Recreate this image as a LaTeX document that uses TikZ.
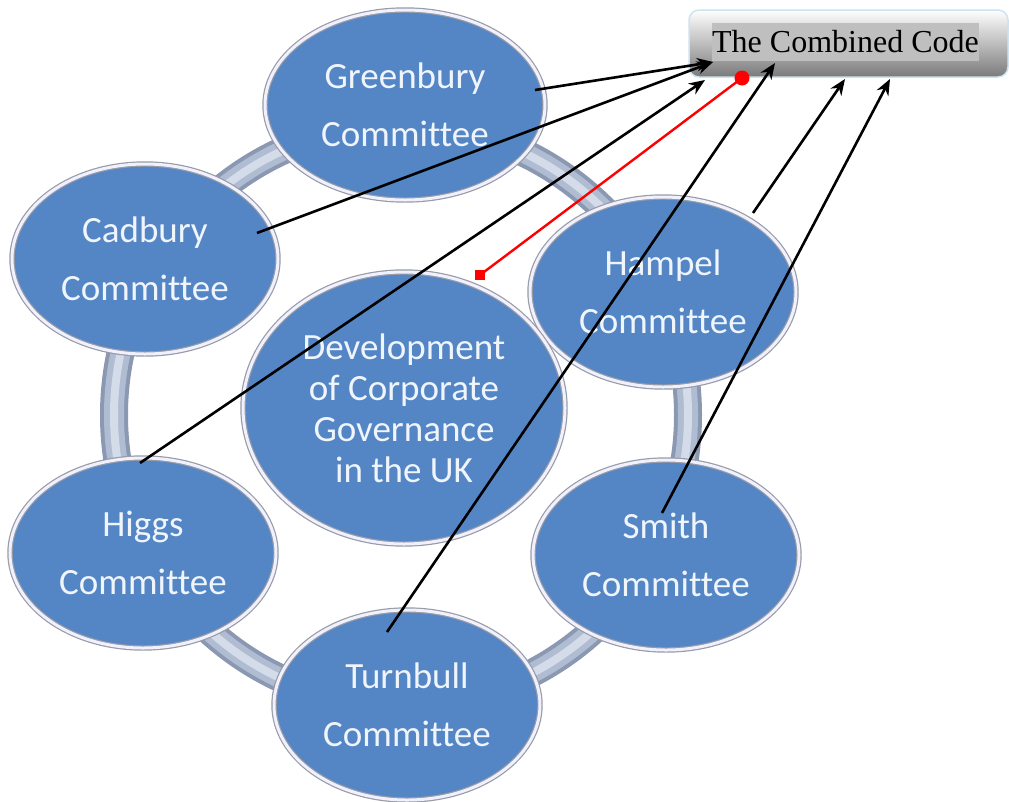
\documentclass[tikz,border=0pt]{standalone}
\usepackage{fontspec}
\setmainfont{Liberation Serif}
\newfontfamily\bubblefont[Ligatures=CommonOff]{Carlito}
\usetikzlibrary{shapes.geometric,arrows.meta}
\definecolor{bubbleblue}{RGB}{84,134,198}
\definecolor{bubbletext}{RGB}{240,245,252}
\definecolor{bubblerim}{RGB}{150,155,165}
\definecolor{ringdark}{RGB}{138,152,178}
\definecolor{ringmid}{RGB}{176,188,210}
\definecolor{ringlight}{RGB}{212,220,234}
\definecolor{boxedge}{RGB}{205,228,240}
\definecolor{markgray}{RGB}{191,191,191}

\begin{document}
\begin{tikzpicture}[x=1pt,y=-1pt,
    committee/.style={ellipse,fill=bubbleblue,draw=bubblerim,line width=1.2pt,
      double=white!94!blue,double distance=3pt,text=bubbletext,
      font=\bubblefont\fontsize{37}{58}\selectfont,align=center,
      minimum width=266pt,minimum height=190pt,inner sep=0pt},
    feed/.style={line width=2.6pt,-{Stealth[length=16pt,width=13pt]}}]
        \useasboundingbox (0,0) rectangle (1009,801);

        % the ring behind the committees
        \draw[ringdark,line width=28pt] (401,415) ellipse (287 and 290);
        \draw[ringmid,line width=20pt] (401,415) ellipse (287 and 290);
        \draw[ringlight,line width=8pt] (401,415) ellipse (287 and 290);

        \node[committee,minimum width=280pt] (greenbury) at (405,105) {Greenbury\\Committee};
        \node[committee] (cadbury) at (145,259) {Cadbury\\Committee};
        \node[committee] (hampel) at (663,292) {Hampel\\Committee};
        \node[committee] (higgs) at (143,553) {Higgs\\Committee};
        \node[committee] (smith) at (666,555) {Smith\\Committee};
        \node[committee] (turnbull) at (407,705) {Turnbull\\Committee};
        \node[committee,minimum width=322pt,minimum height=272pt,
          font=\bubblefont\fontsize{37}{41}\selectfont] (uk) at (404,408)
          {Development\\of Corporate\\Governance\\in the UK};

        % the code box
        \node[draw=boxedge,line width=1.5pt,rounded corners=10pt,top color=white,
          middle color=white!96!black,bottom color=black!52,
          minimum width=319pt,minimum height=67pt] (code) at (848.5,43.5) {};
        \node[fill=markgray,inner sep=0pt,minimum width=267pt,minimum height=38pt,
          font=\fontsize{32}{38}\selectfont] (codetext) at (845.5,42) {The Combined Code};

        % ends of the arrows
        \coordinate (greenbury-out) at (535,90);
        \coordinate (cadbury-out) at (257,233);
        \coordinate (higgs-out) at (140,463);
        \coordinate (turnbull-out) at (387,632);
        \coordinate (hampel-out) at (753,213);
        \coordinate (smith-out) at (662,513);
        \coordinate (code-a) at (713,62);
        \coordinate (code-b) at (705,80);
        \coordinate (code-c) at (775,63);
        \coordinate (code-d) at (845,79);
        \coordinate (code-e) at (890,79);
        \coordinate (red-dot) at (742,78);
        \coordinate (red-box) at (480,275);

        \draw[feed] (greenbury-out) -- (code-a);
        \draw[feed] (cadbury-out) -- (code-a);
        \draw[feed] (higgs-out) -- (code-b);
        \draw[feed] (turnbull-out) -- (code-c);
        \draw[feed] (hampel-out) -- (code-d);
        \draw[feed] (smith-out) -- (code-e);

        \draw[red,line width=2.4pt] (red-dot) -- (red-box);
        \fill[red] (red-dot) circle (7.5);
        \fill[red] ([shift={(-5,-5)}]red-box) rectangle ([shift={(5,5)}]red-box);
      \end{tikzpicture}
\end{document}
